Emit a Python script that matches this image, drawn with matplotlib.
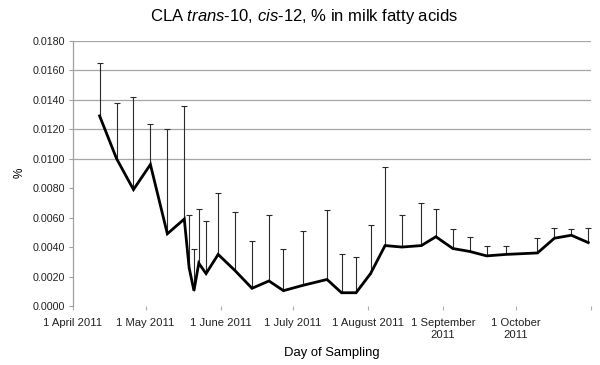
import matplotlib
matplotlib.use("Agg")
import matplotlib.pyplot as plt
import matplotlib.dates as mdates
import numpy as np
import pandas as pd

plt.rcParams['font.family'] = ['Liberation Sans', 'DejaVu Sans']
plt.rcParams['mathtext.fontset'] = 'custom'
plt.rcParams['mathtext.it'] = 'Liberation Sans:italic'
plt.rcParams['mathtext.rm'] = 'Liberation Sans'

sample_dates = ["2011-04-12", "2011-04-19", "2011-04-26", "2011-05-03", "2011-05-10",
                "2011-05-17", "2011-05-19", "2011-05-21", "2011-05-23", "2011-05-26",
                "2011-05-31", "2011-06-07", "2011-06-14", "2011-06-21", "2011-06-27",
                "2011-07-05", "2011-07-15", "2011-07-21", "2011-07-27", "2011-08-02",
                "2011-08-08", "2011-08-15", "2011-08-23", "2011-08-29", "2011-09-05",
                "2011-09-12", "2011-09-19", "2011-09-27", "2011-10-10", "2011-10-17",
                "2011-10-24", "2011-10-31"]
cla_values = [0.0129, 0.0100, 0.0079, 0.0096, 0.0049,
              0.0059, 0.0026, 0.00104, 0.0029, 0.0022,
              0.0035, 0.0024, 0.0012, 0.0017, 0.00104,
              0.0014, 0.0018, 0.0009, 0.0009, 0.0022,
              0.0041, 0.0040, 0.0041, 0.0047, 0.0039,
              0.0037, 0.0034, 0.0035, 0.0036, 0.0046,
              0.0048, 0.0043]
err_upper = [0.0036, 0.00375, 0.0063, 0.00275, 0.0071,
             0.00767, 0.0036, 0.0028, 0.0037, 0.0036,
             0.0042, 0.0040, 0.0032, 0.0045, 0.0028,
             0.0037, 0.0047, 0.0026, 0.0024, 0.0033,
             0.0053, 0.0022, 0.0029, 0.00185, 0.0013,
             0.0010, 0.0007, 0.0006, 0.0010, 0.0007,
             0.0004, 0.0010]
month_ticks = ["2011-04-01", "2011-05-01", "2011-06-01", "2011-07-01",
               "2011-08-01", "2011-09-01", "2011-10-01", "2011-11-01"]
month_labels = ["1 April 2011", "1 May 2011", "1 June 2011", "1 July 2011",
                "1 August 2011", "1 September\n2011", "1 October\n2011", ""]
y_ticks = [0.0, 0.002, 0.004, 0.006, 0.008, 0.010, 0.012, 0.014, 0.016, 0.018]
grid_levels = [0.010, 0.012, 0.014, 0.016, 0.018]

dates = pd.to_datetime(sample_dates)
ticks = pd.to_datetime(month_ticks)

fig = plt.figure(figsize=(6.0, 3.65), dpi=100)
ax = fig.add_axes([73/600, 1-306/365, (590.7-73)/600, (306-40.7)/365])

for g in grid_levels:
    ax.axhline(g, color='#a6a6a6', lw=0.9, zorder=0)

lower = [0.0] * len(err_upper)
eb = ax.errorbar(dates, cla_values, yerr=[lower, err_upper], fmt='none',
                 ecolor='#2a2a2a', elinewidth=0.8, capsize=2.5, capthick=0.8, zorder=2)
# hide the lower caps (errors are one-sided, upward only)
caplines = eb.lines[1]
if len(caplines) >= 1:
    caplines[0].set_visible(False)
ax.plot(dates, cla_values, color='black', lw=2.0, zorder=3, solid_joinstyle='miter')

ax.set_xlim(ticks[0], ticks[-1])
ax.set_ylim(0, 0.018)
ax.set_xticks(ticks)
ax.set_xticklabels(month_labels, fontsize=8.1, color='#222222', linespacing=1.15)
ax.set_yticks(y_ticks)
ax.set_yticklabels([f"{v:.4f}" for v in y_ticks], fontsize=7.7, color='#222222')

for s in ['top', 'right', 'bottom']:
    ax.spines[s].set_visible(False)
ax.spines['left'].set_color('#a0a0a0')
ax.spines['left'].set_linewidth(0.9)
ax.tick_params(axis='y', length=3, color='#a0a0a0', pad=3)
ax.tick_params(axis='x', length=3, color='#b0b0b0', pad=6, direction='out')

fig.text(304/600, 1-16/365, r"CLA $\mathit{trans}$-10, $\mathit{cis}$-12, % in milk fatty acids",
         ha='center', va='center', fontsize=12)
fig.text(332/600, 1-353/365, "Day of Sampling", ha='center', va='center', fontsize=9.4)
fig.text(20/600, 1-173/365, "%", ha='center', va='center', fontsize=8.5, rotation=90)

fig.savefig("out.png", dpi=100)
